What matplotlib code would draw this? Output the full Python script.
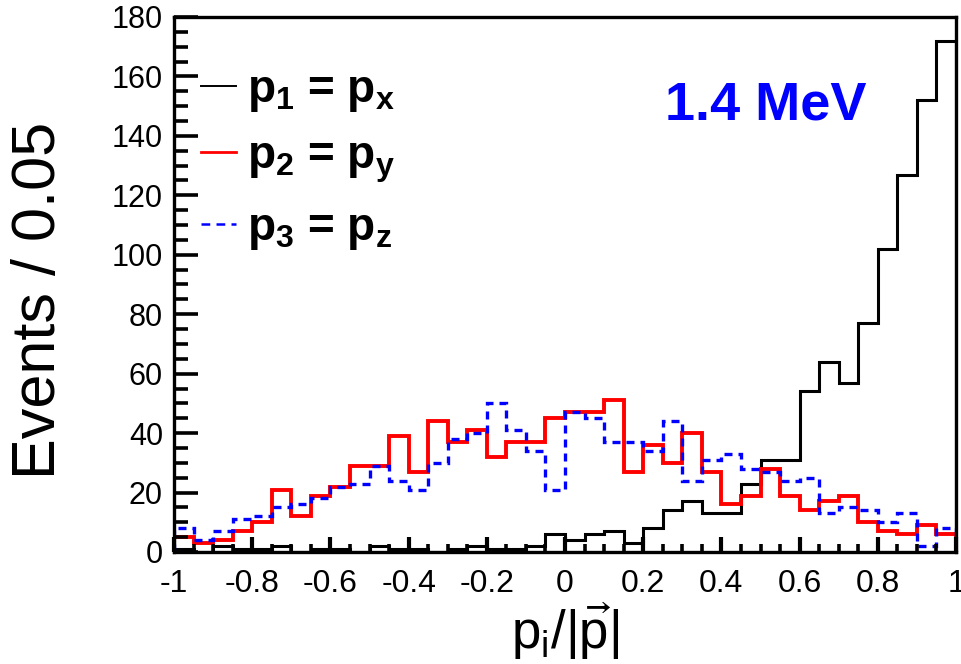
import numpy as np
import matplotlib
matplotlib.use("Agg")
import matplotlib.pyplot as plt
from matplotlib.lines import Line2D
from matplotlib.ticker import MultipleLocator, FuncFormatter

# binning: 40 bins of width 0.05 over p_i/|p| in [-1, 1]
BIN_LO = -1.0
BIN_HI = 1.0
N_BINS = 40

# events per bin for each momentum component
counts_px = [1, 0, 2, 1, 1, 2, 0, 1, 1, 0,
             2, 1, 1, 0, 1, 2, 1, 1, 2, 6,
             4, 6, 7, 3, 8, 14, 17, 13, 13, 23,
             31, 31, 54, 64, 57, 77, 102, 127, 152, 172]
counts_py = [5, 3, 4, 7, 10, 21, 12, 19, 22, 29,
             29, 39, 27, 44, 37, 41, 32, 37, 37, 45,
             47, 47, 51, 27, 36, 30, 40, 27, 16, 19,
             28, 19, 14, 17, 19, 10, 7, 6, 9, 6]
counts_pz = [8, 4, 7, 11, 12, 15, 16, 18, 22, 23,
             29, 24, 21, 30, 38, 40, 50, 41, 34, 21,
             47, 45, 37, 37, 34, 44, 24, 31, 33, 28,
             27, 24, 25, 13, 15, 14, 10, 13, 2, 8]

legend_labels = [r"$\mathbf{p_1}$ = $\mathbf{p_x}$",
                 r"$\mathbf{p_2}$ = $\mathbf{p_y}$",
                 r"$\mathbf{p_3}$ = $\mathbf{p_z}$"]
energy_label = "1.4 MeV"

plt.rcParams["font.family"] = ["Liberation Sans", "DejaVu Sans"]
plt.rcParams["mathtext.fontset"] = "custom"
plt.rcParams["mathtext.rm"] = "Liberation Sans"
plt.rcParams["mathtext.it"] = "Liberation Sans"
plt.rcParams["mathtext.bf"] = "Liberation Sans:bold"

fig = plt.figure(figsize=(9.62, 6.64), dpi=100)
ax = fig.add_axes([0.1809, 0.1687, 0.8129, 0.8057])

edges = np.linspace(BIN_LO, BIN_HI, N_BINS + 1)
blue_dash = (0, (2.4, 1.8))
ax.stairs(counts_px, edges, color="black", lw=2.2)
ax.stairs(counts_py, edges, color="#ff0000", lw=2.8)
ax.stairs(counts_pz, edges, color="#0000ff", lw=2.4, linestyle=blue_dash)

ax.set_xlim(BIN_LO, BIN_HI)
ax.set_ylim(0, 180)

# ROOT-like frame: thick box, inward ticks on left and bottom only
for sp in ax.spines.values():
    sp.set_linewidth(2.4)
ax.xaxis.set_major_locator(MultipleLocator(0.2))
ax.xaxis.set_minor_locator(MultipleLocator(0.05))
ax.yaxis.set_major_locator(MultipleLocator(20))
ax.yaxis.set_minor_locator(MultipleLocator(5))
ax.xaxis.set_major_formatter(FuncFormatter(lambda v, p: "%g" % round(v, 2)))
ax.tick_params(axis="y", which="major", direction="in", length=17, width=2.6,
               labelsize=22, pad=8)
ax.tick_params(axis="y", which="minor", direction="in", length=10, width=2.6)
ax.tick_params(axis="x", which="major", direction="in", length=11, width=3,
               labelsize=23, pad=12)
ax.tick_params(axis="x", which="minor", direction="in", length=6, width=2.6)

ax.set_ylabel("Events / 0.05", fontsize=44)
ax.yaxis.set_label_coords(-0.135, 0.47)
ax.set_xlabel(r"$\mathregular{p_i/|\vec{p}|}$", fontsize=38)
ax.xaxis.set_label_coords(0.5, -0.09)

handles = [Line2D([], [], color="black", lw=1.4),
           Line2D([], [], color="#ff0000", lw=2.0),
           Line2D([], [], color="#0000ff", lw=1.8, linestyle=(0, (3.5, 2.5)))]
ax.legend(handles, legend_labels, loc="upper left", bbox_to_anchor=(0.035, 0.905),
          frameon=False, handlelength=0.75, handletextpad=0.25,
          labelspacing=0.45, borderpad=0, borderaxespad=0,
          prop={"size": 33, "weight": "bold"})

ax.text(0.628, 0.809, energy_label, transform=ax.transAxes, color="#0000ff",
        fontsize=39, fontweight="bold", va="baseline", ha="left")

fig.savefig("out.png", dpi=100)
